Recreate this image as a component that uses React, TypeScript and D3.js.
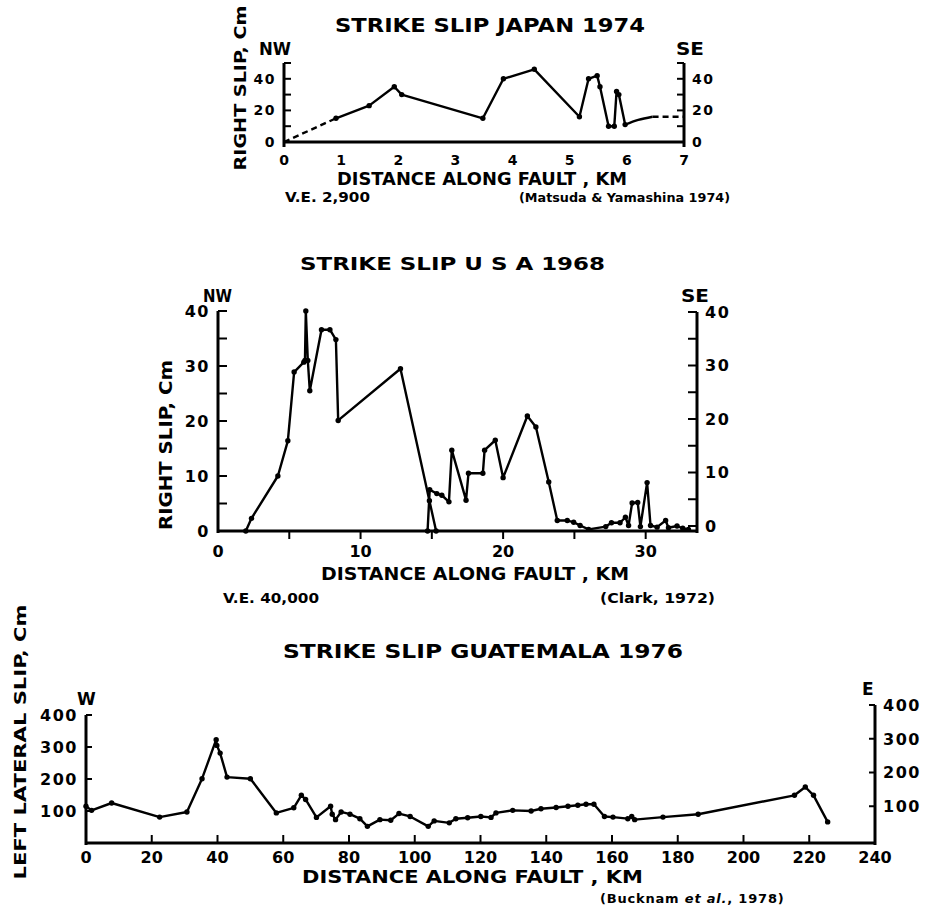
import React from "react";
import * as d3 from "d3";

type Pt = [number, number];

// ---- Japan 1974 (Matsuda & Yamashina 1974) : km along fault, right slip cm
const japanXTicks = [0, 1, 2, 3, 4, 5, 6, 7];
const japanYTicks = [0, 10, 20, 30, 40, 50];
const japanYLabels = [0, 20, 40];
const japanDashStart: Pt[] = [[0, 0], [0.91, 15]];
const japanSlip: Pt[] = [
  [0.91, 15], [1.49, 23], [1.93, 35], [2.06, 30], [3.48, 15], [3.84, 40],
  [4.38, 46], [5.17, 16], [5.33, 40], [5.48, 42], [5.53, 35], [5.68, 10],
  [5.78, 10], [5.82, 32], [5.86, 30], [5.97, 11],
];
const japanTail: Pt[] = [[5.97, 11], [6.2, 14], [6.45, 16]];
const japanDashEnd: Pt[] = [[6.45, 16], [7, 16]];

// ---- USA 1968 (Clark, 1972)
const usaXTicks = [0, 5, 10, 15, 20, 25, 30];
const usaXLabels = [0, 10, 20, 30];
const usaYTicks = [0, 5, 10, 15, 20, 25, 30, 35, 40];
const usaYLabels = [0, 10, 20, 30, 40];
const usaNorth: Pt[] = [
  [1.95, 0], [2.35, 2.3], [4.2, 10], [4.9, 16.4], [5.34, 28.9], [6.02, 30.7],
  [6.1, 31], [6.16, 40], [6.3, 31], [6.44, 25.5], [7.26, 36.6], [7.85, 36.6],
  [8.27, 34.8], [8.43, 20.1], [12.8, 29.5], [14.83, 5.5], [15.3, 0],
];
const usaSouth: Pt[] = [
  [14.7, 0], [14.85, 7.5], [15.35, 6.8], [15.7, 6.5], [16.2, 5.3], [16.4, 14.7],
  [17.4, 5.6], [17.57, 10.5], [18.58, 10.5], [18.7, 14.7], [19.45, 16.5],
  [20, 9.7], [21.7, 20.9], [22.3, 18.9], [23.2, 8.9], [23.8, 1.9], [24.5, 1.9],
  [24.95, 1.6], [25.4, 1.0], [26, 0.3], [27.2, 0.8], [27.6, 1.5], [28.2, 1.5],
  [28.58, 2.5], [28.8, 1], [29.05, 5.1], [29.44, 5.2], [29.63, 0.8], [30.1, 8.8],
  [30.34, 1], [30.8, 0.7], [31.4, 1.9], [31.6, 0.6], [32.2, 0.9], [32.6, 0.5],
  [33, 0.3],
];

// ---- Guatemala 1976 (Bucknam et al., 1978) : left lateral slip cm
const guatXTicks = [0, 20, 40, 60, 80, 100, 120, 140, 160, 180, 200, 220, 240];
const guatYTicks = [100, 200, 300, 400];
const guatSlip: Pt[] = [
  [0, 115], [1.7, 102], [7.8, 125], [22.4, 81], [30.7, 97], [35.3, 201],
  [39.6, 323], [39.8, 305], [40.8, 281], [42.9, 206], [50, 201], [57.9, 94],
  [63.2, 110], [65.5, 149], [66.8, 136], [70.1, 80], [74.4, 115], [74.9, 90],
  [75.9, 73], [77.6, 97], [80.3, 90], [83.3, 76], [85.6, 52], [89.4, 73],
  [92.7, 71], [95.2, 92], [98.6, 83], [104.1, 52], [105.9, 69], [110.5, 63],
  [112.5, 76], [116.1, 79], [120.1, 83], [123.2, 80], [124.7, 94], [129.8, 102],
  [135.4, 100], [138.4, 107], [143, 111], [146.6, 115], [149.6, 118],
  [152.1, 121], [154.5, 121], [157.7, 83], [160.3, 81], [164.8, 76], [166, 83],
  [166.9, 73], [175.5, 81], [186.2, 90], [215.5, 149], [218.8, 175],
  [221.3, 149], [225.6, 66],
];

const FONT = "'DejaVu Sans', sans-serif";

type Scale = d3.ScaleLinear<number, number>;

function Trace({ pts, x, y, dash, dots, curve }: {
  pts: Pt[]; x: Scale; y: Scale; dash?: string; dots?: boolean; curve?: d3.CurveFactory;
}) {
  const line = d3.line<Pt>().x(d => x(d[0])).y(d => y(d[1])).curve(curve || d3.curveLinear);
  return (
    <g>
      <path d={line(pts) || ""} fill="none" stroke="#000" strokeWidth={2.4}
        strokeDasharray={dash} strokeLinejoin="round" />
      {dots && pts.map((d, i) => (
        <circle key={i} cx={x(d[0])} cy={y(d[1])} r={2.7} fill="#000" />
      ))}
    </g>
  );
}

function Txt({ x, y, size, len, children, anchor, rotate }: {
  x: number; y: number; size: number; len?: number; children: React.ReactNode;
  anchor?: string; rotate?: boolean;
}) {
  return (
    <text x={rotate ? 0 : x} y={rotate ? 0 : y} fontSize={size} fontWeight="bold"
      fontFamily={FONT} textAnchor={anchor || "start"}
      textLength={len} lengthAdjust={len ? "spacingAndGlyphs" : undefined}
      transform={rotate ? `translate(${x},${y}) rotate(-90)` : undefined}>
      {children}
    </text>
  );
}

// axis frame: left & right vertical axes, bottom axis, inward ticks
function Frame({ x, y, yR, xTicks, xLabels, xTickDir, xTickLen, yTicks, yLabels,
  yTickLen, tickFont, xLabelBase, yLabelGap, axisExtra }: {
  x: Scale; y: Scale; yR: Scale; xTicks: number[]; xLabels: number[];
  xTickDir: number; xTickLen: number; yTicks: number[]; yLabels: number[];
  yTickLen: number; tickFont: number; xLabelBase: number; yLabelGap: number;
  axisExtra: number;
}) {
  const [x0, x1] = x.range();
  const y0 = y.range()[0];
  const yTop = y.range()[1];
  const yRTop = yR.range()[1];
  return (
    <g stroke="#000">
      <line x1={x0} x2={x1} y1={y0} y2={y0} strokeWidth={3.2} />
      <line x1={x0} x2={x0} y1={yTop} y2={y0 + axisExtra} strokeWidth={3} />
      <line x1={x1} x2={x1} y1={yRTop} y2={y0 + axisExtra} strokeWidth={3} />
      {xTicks.filter(t => x(t) > x0 + 1 && x(t) < x1 - 1).map(t => (
        <line key={"xt" + t} x1={x(t)} x2={x(t)} y1={y0} y2={y0 + xTickDir * xTickLen} strokeWidth={2} />
      ))}
      {yTicks.map(t => (
        <g key={"yt" + t}>
          <line x1={x0} x2={x0 + yTickLen} y1={y(t)} y2={y(t)} strokeWidth={2} />
          <line x1={x1} x2={x1 - yTickLen} y1={yR(t)} y2={yR(t)} strokeWidth={2} />
        </g>
      ))}
      <g stroke="none" fill="#000">
        {xLabels.map(t => (
          <Txt key={"xl" + t} x={x(t)} y={xLabelBase} size={tickFont} anchor="middle">{t}</Txt>
        ))}
        {yLabels.map(t => (
          <g key={"yl" + t}>
            <text x={x0 - yLabelGap} y={y(t)} dy="0.36em" fontSize={tickFont} fontWeight="bold"
              fontFamily={FONT} textAnchor="end" letterSpacing={1.5}>{t}</text>
            <text x={x1 + yLabelGap} y={yR(t)} dy="0.36em" fontSize={tickFont} fontWeight="bold"
              fontFamily={FONT} textAnchor="start" letterSpacing={1.5}>{t}</text>
          </g>
        ))}
      </g>
    </g>
  );
}

function JapanPanel() {
  const x = d3.scaleLinear().domain([0, 7]).range([284, 684]);
  const y = d3.scaleLinear().domain([0, 50]).range([142, 63]);
  return (
    <g>
      <Txt x={335} y={32} size={20} len={310}>STRIKE SLIP  JAPAN 1974</Txt>
      <Txt x={259} y={55} size={17} len={32}>NW</Txt>
      <Txt x={676} y={55} size={17} len={28}>SE</Txt>
      <Txt x={246} y={88} size={15} len={165} anchor="middle" rotate>RIGHT SLIP, Cm</Txt>
      <Frame x={x} y={y} yR={y} xTicks={[]} xLabels={japanXTicks} xTickDir={1} xTickLen={0}
        yTicks={japanYTicks} yLabels={japanYLabels} yTickLen={7} tickFont={14}
        xLabelBase={165} yLabelGap={8} axisExtra={5} />
      <Trace pts={japanDashStart} x={x} y={y} dash="6,4" />
      <Trace pts={japanSlip} x={x} y={y} dots />
      <Trace pts={japanTail} x={x} y={y} curve={d3.curveNatural} />
      <Trace pts={japanDashEnd} x={x} y={y} dash="6,4" />
      <Txt x={337} y={185} size={18} len={290}>DISTANCE ALONG FAULT , KM</Txt>
      <Txt x={285} y={202} size={14} len={85}>V.E. 2,900</Txt>
      <Txt x={519} y={202} size={13} len={211}>(Matsuda &amp; Yamashina 1974)</Txt>
    </g>
  );
}

function UsaPanel() {
  const x = d3.scaleLinear().domain([0, 33.6]).range([218, 697]);
  const y = d3.scaleLinear().domain([0, 40]).range([531, 311]);
  const yR = d3.scaleLinear().domain([0, 40]).range([526, 312]);
  return (
    <g>
      <Txt x={300} y={270} size={18} len={305}>STRIKE SLIP U S A 1968</Txt>
      <Txt x={203} y={302} size={17} len={29}>NW</Txt>
      <Txt x={681} y={302} size={17} len={28}>SE</Txt>
      <Txt x={172} y={445} size={17} len={170} anchor="middle" rotate>RIGHT SLIP, Cm</Txt>
      <Frame x={x} y={y} yR={yR} xTicks={usaXTicks} xLabels={usaXLabels} xTickDir={1} xTickLen={8}
        yTicks={usaYTicks} yLabels={usaYLabels} yTickLen={9} tickFont={16}
        xLabelBase={557} yLabelGap={8} axisExtra={2} />
      <Trace pts={usaNorth} x={x} y={y} dots />
      <Trace pts={usaSouth} x={x} y={y} dots />
      <Txt x={321} y={580} size={18} len={308}>DISTANCE ALONG FAULT , KM</Txt>
      <Txt x={223} y={603} size={14} len={96}>V.E. 40,000</Txt>
      <Txt x={600} y={603} size={14} len={115}>(Clark, 1972)</Txt>
    </g>
  );
}

function GuatemalaPanel() {
  const x = d3.scaleLinear().domain([0, 240]).range([86, 875]);
  const y = d3.scaleLinear().domain([0, 400]).range([843, 715]);
  const yR = d3.scaleLinear().domain([0, 400]).range([840, 705]);
  return (
    <g>
      <Txt x={283} y={658} size={19} len={400}>STRIKE SLIP GUATEMALA 1976</Txt>
      <Txt x={77} y={705} size={17}>W</Txt>
      <Txt x={862} y={695} size={17}>E</Txt>
      <Txt x={26} y={742} size={15} len={275} anchor="middle" rotate>LEFT LATERAL SLIP, Cm</Txt>
      <Frame x={x} y={y} yR={yR} xTicks={guatXTicks} xLabels={guatXTicks} xTickDir={-1} xTickLen={8}
        yTicks={guatYTicks} yLabels={guatYTicks} yTickLen={6} tickFont={16}
        xLabelBase={863} yLabelGap={8} axisExtra={2} />
      <Trace pts={guatSlip} x={x} y={y} dots />
      <Txt x={302} y={883} size={17} len={341}>DISTANCE ALONG FAULT , KM</Txt>
      <text x={600} y={903} fontSize={13} fontWeight="bold" fontFamily={FONT} letterSpacing={0.8}>
        (Bucknam <tspan fontStyle="italic">et al.</tspan>, 1978)
      </text>
    </g>
  );
}

export default function App() {
  return (
    <svg width={925} height={909} viewBox="0 0 925 909"
      style={{ position: "absolute", left: 0, top: 0, background: "#fff" }}>
      <rect width={925} height={909} fill="#fff" />
      <JapanPanel />
      <UsaPanel />
      <GuatemalaPanel />
    </svg>
  );
}
